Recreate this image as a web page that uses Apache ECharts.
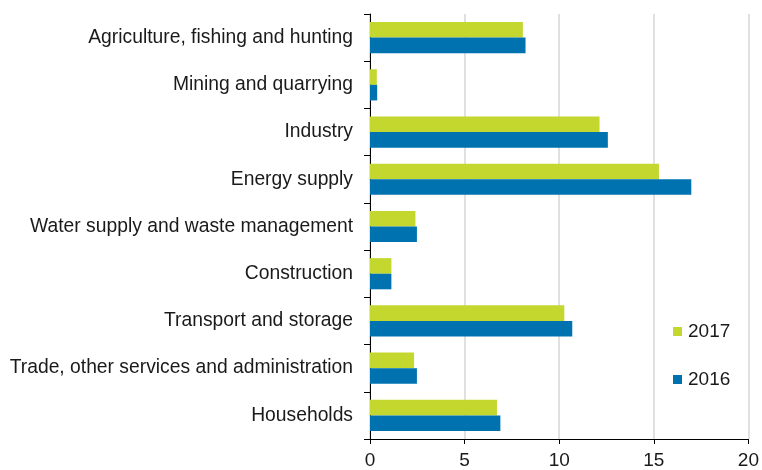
<!DOCTYPE html>
<html><head><meta charset="utf-8">
<script src="https://cdn.jsdelivr.net/npm/echarts@6/dist/echarts.min.js"></script>
<style>html,body{margin:0;padding:0;background:#fff}#c{width:762px;height:470px}</style>
</head><body><div id="c"></div>
<script>
const categories = ["Agriculture, fishing and hunting","Mining and quarrying","Industry","Energy supply","Water supply and waste management","Construction","Transport and storage","Trade, other services and administration","Households"];
const values2017 = [8.08, 0.36, 12.13, 15.27, 2.4, 1.13, 10.27, 2.33, 6.71];
const values2016 = [8.22, 0.38, 12.57, 16.98, 2.48, 1.13, 10.69, 2.48, 6.89];
const xTicks = [0, 5, 10, 15, 20];

const chart = echarts.init(document.getElementById('c'));
const font = 'Arial, "Liberation Sans", sans-serif';
chart.setOption({
  animation: false,
  grid: {left: 370, right: 13, top: 14, bottom: 27},
  legend: {
    orient: 'vertical', left: 673, top: 322, itemGap: 29, padding: 0,
    itemWidth: 9, itemHeight: 9, icon: 'rect',
    textStyle: {fontFamily: font, fontSize: 19, lineHeight: 19, color: '#1a1a1a', padding: [0,0,0,1]},
    data: ['2017', '2016']
  },
  xAxis: {
    type: 'value', min: xTicks[0], max: xTicks[xTicks.length-1], interval: 5,
    axisLine: {show: true, lineStyle: {color: '#000', width: 1}},
    axisTick: {show: true, length: 5, lineStyle: {color: '#000'}},
    axisLabel: {fontFamily: font, fontSize: 19, color: '#1a1a1a', margin: 12},
    splitLine: {show: true, lineStyle: {color: '#d6d6d6', type: 'solid', width: 1.5}}
  },
  yAxis: {
    type: 'category', data: categories, inverse: true,
    axisLine: {show: true, lineStyle: {color: '#000', width: 1}},
    axisTick: {show: true, length: 6, lineStyle: {color: '#000'}},
    axisLabel: {fontFamily: font, fontSize: 19.3, color: '#1a1a1a', margin: 17, padding: [0,0,3,0]}
  },
  series: [
    {name: '2017', type: 'bar', data: values2017, itemStyle: {color: '#c3d72f'}, barGap: '0%', barCategoryGap: '34%'},
    {name: '2016', type: 'bar', data: values2016, itemStyle: {color: '#0072b0'}, barGap: '0%', barCategoryGap: '34%'}
  ]
});
</script></body></html>
